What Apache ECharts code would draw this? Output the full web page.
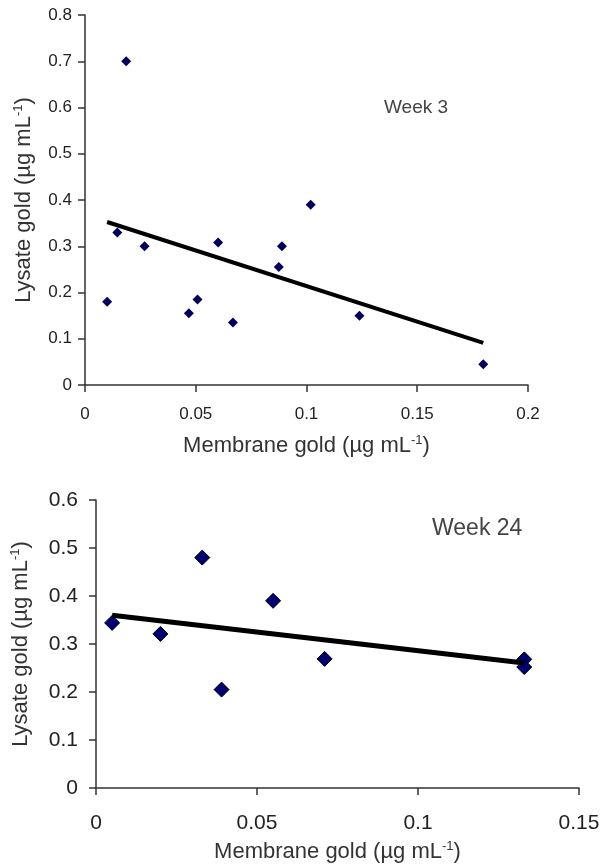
<!DOCTYPE html>
<html>
<head>
<meta charset="utf-8">
<script src="https://cdn.jsdelivr.net/npm/echarts@6/dist/echarts.min.js"></script>
<style>
    html, body { margin: 0; padding: 0; background: #fff; }
    #main { width: 609px; height: 866px; }
</style>
</head>
<body>
<div id="main"></div>
<script>
// Week 3 数据 (membrane gold, lysate gold)
var week3Membrane = [0.010, 0.0146, 0.0186, 0.0269, 0.0469, 0.0508, 0.0601, 0.0668, 0.0875, 0.0889, 0.1019, 0.1239, 0.1798];
var week3Lysate = [0.18, 0.33, 0.70, 0.30, 0.155, 0.185, 0.308, 0.135, 0.255, 0.30, 0.39, 0.15, 0.045];

// Week 24 数据
var week24Membrane = [0.005, 0.020, 0.033, 0.039, 0.055, 0.071, 0.133, 0.133];
var week24Lysate = [0.344, 0.321, 0.480, 0.205, 0.390, 0.269, 0.268, 0.252];

var panelTitles = ['Week 3', 'Week 24'];
var xAxisName = 'Membrane gold (µg mL{sup|-1})';
var yAxisName = 'Lysate gold (µg mL{sup|-1})';

function toPairs(xs, ys) {
    var out = [];
    for (var i = 0; i < xs.length; i++) out.push([xs[i], ys[i]]);
    return out;
}

// 线性趋势线（最小二乘）
function trendLine(xs, ys) {
    var n = xs.length, sx = 0, sy = 0, sxx = 0, sxy = 0;
    for (var i = 0; i < n; i++) {
        sx += xs[i]; sy += ys[i];
        sxx += xs[i] * xs[i]; sxy += xs[i] * ys[i];
    }
    var b = (n * sxy - sx * sy) / (n * sxx - sx * sx);
    var a = (sy - b * sx) / n;
    var x0 = Math.min.apply(null, xs), x1 = Math.max.apply(null, xs);
    return [[x0, a + b * x0], [x1, a + b * x1]];
}

var chart = echarts.init(document.getElementById('main'));

function axisBase(fontSize, nameSize) {
    return {
        axisLine: {lineStyle: {color: '#333', width: 1.5}},
        axisTick: {show: true, length: 7, lineStyle: {color: '#333', width: 1.5}},
        splitLine: {show: false},
        axisLabel: {color: '#222', fontFamily: 'Arial', fontSize: fontSize},
        nameTextStyle: {
            color: '#333', fontFamily: 'Arial', fontSize: nameSize,
            rich: {sup: {fontSize: Math.round(nameSize * 0.6), fontFamily: 'Arial', color: '#333', padding: [0, 0, Math.round(nameSize * 0.5), 0]}}
        }
    };
}

function xAxis(grid, max, fontSize, margin, nameSize, gap) {
    var o = axisBase(fontSize, nameSize);
    o.type = 'value'; o.gridIndex = grid; o.min = 0; o.max = max; o.interval = 0.05;
    o.name = xAxisName; o.nameLocation = 'middle'; o.nameGap = gap;
    o.axisLabel.margin = margin;
    return o;
}

function yAxis(grid, max, fontSize, margin, nameSize, gap) {
    var o = axisBase(fontSize, nameSize);
    o.type = 'value'; o.gridIndex = grid; o.min = 0; o.max = max; o.interval = 0.1;
    o.name = yAxisName; o.nameLocation = 'middle'; o.nameGap = gap; o.nameRotate = 90;
    o.axisLabel.margin = margin;
    return o;
}

chart.setOption({
    animation: false,
    backgroundColor: '#fff',
    title: [
        {text: panelTitles[0], left: 379, top: 93, textStyle: {color: '#444', fontFamily: 'Arial', fontSize: 19, fontWeight: 'normal'}},
        {text: panelTitles[1], left: 427, top: 512, textStyle: {color: '#444', fontFamily: 'Arial', fontSize: 23, fontWeight: 'normal'}}
    ],
    grid: [
        {left: 85, top: 15, width: 443, height: 370},
        {left: 96, top: 500, width: 483, height: 288}
    ],
    xAxis: [
        xAxis(0, 0.2, 17, 21, 22, 49),
        xAxis(1, 0.15, 21, 25, 22, 52)
    ],
    yAxis: [
        yAxis(0, 0.8, 17, 13, 22, 49),
        yAxis(1, 0.6, 21, 18, 22, 63)
    ],
    series: [
        {
            type: 'scatter', xAxisIndex: 0, yAxisIndex: 0,
            symbol: 'diamond', symbolSize: 10,
            itemStyle: {color: '#00005a', opacity: 1},
            data: toPairs(week3Membrane, week3Lysate)
        },
        {
            type: 'line', xAxisIndex: 0, yAxisIndex: 0,
            showSymbol: false, lineStyle: {color: '#000', width: 4},
            data: trendLine(week3Membrane, week3Lysate)
        },
        {
            type: 'scatter', xAxisIndex: 1, yAxisIndex: 1,
            symbol: 'diamond', symbolSize: 15,
            itemStyle: {color: '#000070', borderColor: '#000', borderWidth: 1, opacity: 1},
            data: toPairs(week24Membrane, week24Lysate)
        },
        {
            type: 'line', xAxisIndex: 1, yAxisIndex: 1,
            showSymbol: false, lineStyle: {color: '#000', width: 5},
            data: trendLine(week24Membrane, week24Lysate)
        }
    ]
});
</script>
</body>
</html>
